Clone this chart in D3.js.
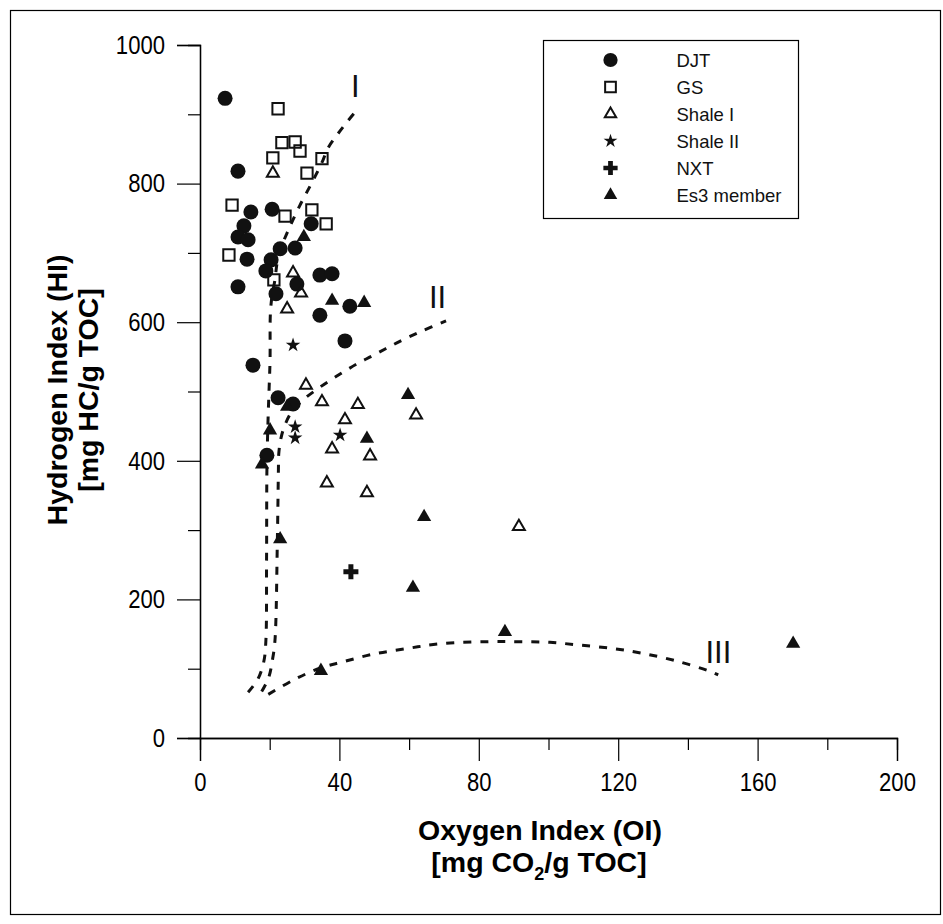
<!DOCTYPE html>
<meta charset="utf-8">
<head>
  <title>HI vs OI</title>
</head>
<style>
body { margin: 0; background: #fff; }
svg { display: block; }
.tick text { font-family: "Liberation Sans", Arial, sans-serif; }
</style>
<body>
<div id="chart"></div>
<script src="https://cdn.jsdelivr.net/npm/d3@7/dist/d3.min.js"></script>
<script>
// values: [OI, HI]
var djt = [[7.2,923],[10.9,818],[14.6,759],[20.7,763],[12.6,739],[10.9,723],[13.8,719],[13.5,691],
  [23.0,706],[27.3,707],[31.9,742],[20.4,690],[18.9,674],[34.4,668],[37.9,670],[10.9,651],[27.8,655],
  [21.8,641],[43.0,623],[34.4,610],[41.6,573],[15.2,538],[22.4,491],[26.7,482],[19.2,408]];
var gs = [[22.4,908],[23.5,859],[27.3,860],[28.7,847],[20.9,837],[35.0,836],[30.7,815],[9.2,769],
  [24.4,753],[32.1,762],[36.2,742],[8.3,697],[21.2,661]];
var shaleI = [[20.9,815],[26.7,671],[29.0,642],[25.0,619],[30.4,509],[35.0,485],[45.3,481],[41.6,459],
  [62.0,466],[37.9,417],[48.8,407],[36.4,368],[47.9,354],[91.5,305]];
var shaleII = [[26.7,567],[27.3,449],[27.3,433],[40.2,437]];
var nxt = [[43.3,240]];
var es3 = [[29.8,723],[37.9,631],[47.1,628],[59.7,495],[25.0,478],[20.1,444],[47.9,432],[17.8,395],
  [64.3,319],[23.0,287],[61.1,217],[34.7,97],[87.5,153],[170.2,136]];

// kerogen type boundaries
var typeI = [[13.8,66],[16.6,85],[18.3,110],[18.9,140],[19.1,257],[19.2,387],[19.5,455],[19.8,500],
  [20.1,546],[20.2,613],[20.7,639],[21.5,661],[22.1,685],[23.0,704],[25.0,729],[26.7,748],[28.7,769],
  [30.7,788],[33.0,810],[35.3,834],[36.7,851],[39.3,870],[42.2,889],[45.0,906]];
var typeII = [[17.7,67],[19.7,87],[20.8,113],[21.5,140],[22.2,286],[22.5,387],[22.6,410],[23.2,432],
  [24.4,452],[26.5,472],[29.6,488],[33.5,503],[37.3,516],[41.1,528],[45.1,540],[49.3,551],[53.4,562],
  [57.2,572],[63.1,586],[70.6,602]];
var typeIII = [[19.6,63],[27.7,86],[34.6,101],[41.1,110],[49.7,121],[59.3,129],[68.9,136],[82.3,139],
  [91.3,139],[100.4,138],[109.0,134],[118.6,129],[127.2,122],[136.8,111],[145.9,97],[148.7,91]];

var xMajor = [0, 40, 80, 120, 160, 200];
var xMinor = [20, 60, 100, 140, 180];
var yMajor = [0, 200, 400, 600, 800, 1000];
var yMinor = [100, 300, 500, 700, 900];

var series = [
  {name: "DJT", data: djt, type: d3.symbolCircle, size: 177, fill: "#111"},
  {name: "GS", data: gs, type: d3.symbolSquare, size: 128, fill: "none"},
  {name: "Shale I", data: shaleI, type: d3.symbolTriangle, size: 62, fill: "none"},
  {name: "Shale II", data: shaleII, type: d3.symbolStar, size: 66, fill: "#111"},
  {name: "NXT", data: nxt, type: d3.symbolCross, size: 125, fill: "#111"},
  {name: "Es3 member", data: es3, type: d3.symbolTriangle, size: 88, fill: "#111"}
];

var width = 943, height = 924;
var svg = d3.select("#chart").append("svg")
  .attr("width", width).attr("height", height);

// outer frame
svg.append("rect")
  .attr("x", 10.5).attr("y", 10.5).attr("width", 930).attr("height", 904)
  .attr("fill", "none").attr("stroke", "#000").attr("stroke-width", 1.2);

var x = d3.scaleLinear().domain([0, 200]).range([200, 897]);
var y = d3.scaleLinear().domain([0, 1000]).range([738, 45]);

function styleAxis(g) {
  g.select(".domain").attr("stroke", "#000").attr("stroke-width", 1.3);
  g.selectAll(".tick line").attr("stroke", "#000").attr("stroke-width", 1.2);
  g.selectAll(".tick text").attr("fill", "#000").attr("font-size", 26);
}

// x axis
svg.append("g").attr("transform", "translate(0,738)")
  .call(d3.axisBottom(x).tickValues(xMinor).tickSize(12).tickFormat(""))
  .call(styleAxis);
svg.append("g").attr("transform", "translate(0,738)")
  .call(d3.axisBottom(x).tickValues(xMajor).tickSize(23).tickPadding(12).tickFormat(d3.format("d")))
  .call(styleAxis)
  .selectAll(".tick text").attr("transform", "scale(0.85,1)");

// y axis
svg.append("g").attr("transform", "translate(200,0)")
  .call(d3.axisLeft(y).tickValues(yMinor).tickSize(12).tickFormat(""))
  .call(styleAxis);
svg.append("g").attr("transform", "translate(200,0)")
  .call(d3.axisLeft(y).tickValues(yMajor).tickSize(23).tickPadding(12).tickFormat(d3.format("d")))
  .call(styleAxis)
  .selectAll(".tick text").attr("x", 0).attr("transform", "translate(-35,0) scale(0.85,1)");

// titles
var titleFont = "'Liberation Sans', Arial, Helvetica, sans-serif";
svg.append("text").attr("x", 540).attr("y", 840).attr("text-anchor", "middle")
  .attr("font-family", titleFont).attr("font-weight", "bold").attr("font-size", 28.5)
  .text("Oxygen Index (OI)");
var t2 = svg.append("text").attr("x", 539).attr("y", 871.5).attr("text-anchor", "middle")
  .attr("font-family", titleFont).attr("font-weight", "bold").attr("font-size", 28.5);
t2.append("tspan").text("[mg CO");
t2.append("tspan").attr("font-size", 18).attr("dy", 8).text("2");
t2.append("tspan").attr("dy", -8).text("/g TOC]");

svg.append("text").attr("transform", "translate(67,390) rotate(-90)").attr("text-anchor", "middle")
  .attr("font-family", titleFont).attr("font-weight", "bold").attr("font-size", 28.5)
  .text("Hydrogen Index (HI)");
svg.append("text").attr("transform", "translate(98,390) rotate(-90)").attr("text-anchor", "middle")
  .attr("font-family", titleFont).attr("font-weight", "bold").attr("font-size", 28.5)
  .text("[mg HC/g TOC]");

// type curves
var line = d3.line().x(function(d) { return x(d[0]); }).y(function(d) { return y(d[1]); })
  .curve(d3.curveCatmullRom);
[typeI, typeII, typeIII].forEach(function(c) {
  svg.append("path").attr("d", line(c)).attr("fill", "none")
    .attr("stroke", "#111").attr("stroke-width", 3).attr("stroke-dasharray", "8,9");
});

var labels = [["I", 351, 97], ["II", 429, 307.5], ["III", 705.5, 662.5]];
svg.selectAll(".typelabel").data(labels).enter().append("text")
  .attr("x", function(d) { return d[1]; }).attr("y", function(d) { return d[2]; })
  .attr("font-family", titleFont).attr("font-size", 31).attr("fill", "#111")
  .text(function(d) { return d[0]; });

// points
var sym = d3.symbol();
series.forEach(function(s) {
  svg.append("g").selectAll("path").data(s.data).enter().append("path")
    .attr("transform", function(d) { return "translate(" + x(d[0]) + "," + y(d[1]) + ")"; })
    .attr("d", sym.type(s.type).size(s.size)())
    .attr("fill", s.fill)
    .attr("stroke", s.fill === "none" ? "#111" : "none")
    .attr("stroke-width", 2);
});

// legend
var leg = svg.append("g");
leg.append("rect").attr("x", 543.5).attr("y", 40.5).attr("width", 255).attr("height", 178)
  .attr("fill", "#fff").attr("stroke", "#000").attr("stroke-width", 1.2);
series.forEach(function(s, i) {
  var cy = 60 + i * 27;
  leg.append("path").attr("transform", "translate(610.5," + cy + ")")
    .attr("d", sym.type(s.type).size(s.size * 0.9)())
    .attr("fill", s.fill)
    .attr("stroke", s.fill === "none" ? "#111" : "none")
    .attr("stroke-width", 2);
  leg.append("text").attr("x", 676.5).attr("y", cy + 6.5)
    .attr("font-family", titleFont).attr("font-size", 18.5).attr("fill", "#111")
    .text(s.name);
});
</script>
</body>
</html>
